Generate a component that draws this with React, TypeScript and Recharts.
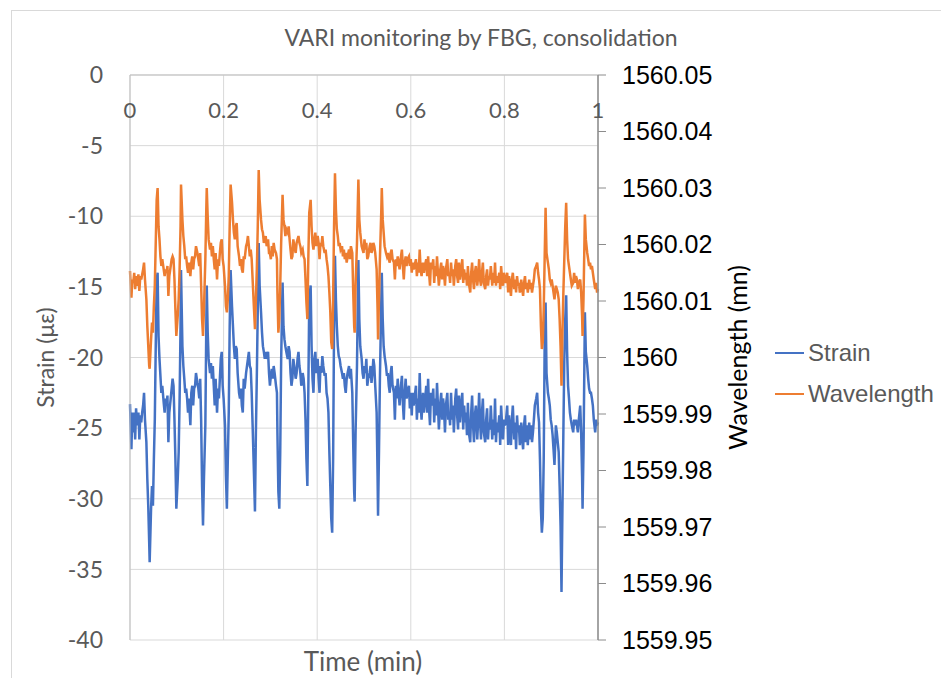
import React from "react";
import { LineChart, Line, XAxis, YAxis, CartesianGrid, Legend, Label } from "recharts";

// time (min)
const timeMin = [
  0.000, 0.003, 0.005, 0.007, 0.009, 0.011, 0.013, 0.015, 0.018, 0.020, 0.022, 0.024, 0.026, 0.028, 0.030, 0.032, 0.035, 0.037, 0.039, 0.041, 0.042, 0.045, 0.047, 0.049, 0.051, 0.053, 0.055, 0.057, 0.059, 0.061, 0.063, 0.065, 0.067, 0.069, 0.072, 0.074, 0.076, 0.078, 0.080, 0.082, 0.084, 0.087, 0.089, 0.091, 0.093, 0.095, 0.097, 0.099, 0.102, 0.104, 0.106, 0.108, 0.109, 0.112, 0.114, 0.116, 0.118, 0.120, 0.122, 0.124, 0.126, 0.129, 0.131, 0.133, 0.135, 0.137, 0.139, 0.141, 0.144, 0.146, 0.148, 0.150,
  0.152, 0.154, 0.156, 0.158, 0.161, 0.163, 0.164, 0.166, 0.168, 0.171, 0.173, 0.175, 0.177, 0.179, 0.181, 0.183, 0.186, 0.188, 0.190, 0.192, 0.194, 0.196, 0.198, 0.200, 0.203, 0.205, 0.207, 0.209, 0.211, 0.213, 0.215, 0.218, 0.220, 0.222, 0.224, 0.226, 0.228, 0.230, 0.233, 0.235, 0.237, 0.239, 0.241, 0.243, 0.245, 0.248, 0.250, 0.252, 0.254, 0.256, 0.258, 0.260, 0.262, 0.265, 0.267, 0.269, 0.271, 0.273, 0.275, 0.277, 0.280, 0.282, 0.284, 0.286, 0.288, 0.290, 0.292, 0.295, 0.297, 0.299, 0.301, 0.303, 0.305, 0.307, 0.309, 0.312, 0.314,
  0.315, 0.317, 0.319, 0.321, 0.323, 0.326, 0.328, 0.330, 0.332, 0.334, 0.337, 0.339, 0.341, 0.343, 0.345, 0.347, 0.349, 0.351, 0.354, 0.356, 0.358, 0.360, 0.362, 0.364, 0.366, 0.369, 0.371, 0.373, 0.375, 0.377, 0.379, 0.381, 0.383, 0.386, 0.388, 0.390, 0.392, 0.394, 0.396, 0.398, 0.401, 0.403, 0.405, 0.407, 0.409, 0.411, 0.413, 0.416, 0.418, 0.420, 0.422, 0.424, 0.426, 0.428, 0.430, 0.432, 0.434, 0.436, 0.438, 0.440, 0.442, 0.444, 0.446, 0.448, 0.450, 0.453, 0.455, 0.457, 0.459, 0.461, 0.463, 0.465, 0.468, 0.470, 0.472,
  0.475, 0.477, 0.479, 0.480, 0.482, 0.485, 0.487, 0.488, 0.490, 0.492, 0.495, 0.497, 0.499, 0.501, 0.503, 0.505, 0.507, 0.509, 0.512, 0.514, 0.516, 0.518, 0.520, 0.522, 0.524, 0.527, 0.529, 0.530, 0.532, 0.534, 0.537, 0.538, 0.540, 0.542, 0.544, 0.547, 0.549, 0.551, 0.553, 0.555, 0.557, 0.559, 0.561, 0.564, 0.566, 0.568, 0.570, 0.572, 0.574, 0.576, 0.579, 0.581, 0.583, 0.585, 0.587, 0.589, 0.591, 0.593, 0.596, 0.598, 0.600, 0.602, 0.604, 0.606, 0.608, 0.611, 0.613, 0.615, 0.617, 0.619, 0.621, 0.623, 0.626, 0.628, 0.630,
  0.633, 0.635, 0.637, 0.639, 0.641, 0.643, 0.645, 0.648, 0.650, 0.652, 0.654, 0.656, 0.658, 0.660, 0.663, 0.665, 0.667, 0.669, 0.671, 0.673, 0.675, 0.678, 0.680, 0.682, 0.684, 0.686, 0.688, 0.690, 0.692, 0.695, 0.697, 0.699, 0.701, 0.703, 0.705, 0.707, 0.710, 0.712, 0.714, 0.716, 0.718, 0.720, 0.722, 0.724, 0.727, 0.729, 0.731, 0.733, 0.735, 0.737, 0.739, 0.742, 0.744, 0.746, 0.748, 0.750, 0.752, 0.754, 0.756, 0.759, 0.761, 0.763, 0.765, 0.767, 0.769, 0.771, 0.774, 0.776, 0.778, 0.780, 0.782, 0.784, 0.786, 0.789, 0.791, 0.793, 0.795, 0.797, 0.799, 0.801,
  0.803, 0.806, 0.808, 0.810, 0.812, 0.814, 0.816, 0.818, 0.821, 0.823, 0.825, 0.827, 0.829, 0.831, 0.833, 0.836, 0.838, 0.840, 0.842, 0.844, 0.846, 0.848, 0.850, 0.853, 0.855, 0.857, 0.859, 0.861, 0.863, 0.865, 0.868, 0.870, 0.872, 0.874, 0.876, 0.878, 0.880, 0.882, 0.884, 0.886, 0.888, 0.890, 0.893, 0.895, 0.897, 0.899, 0.901, 0.903, 0.905, 0.907, 0.910, 0.912, 0.914, 0.916, 0.918, 0.920, 0.922, 0.924, 0.926, 0.928, 0.930, 0.932, 0.934, 0.936, 0.938, 0.940, 0.942, 0.944, 0.947, 0.949, 0.951, 0.953, 0.955, 0.957, 0.959, 0.962, 0.964, 0.966, 0.967, 0.969, 0.971, 0.972, 0.974, 0.977, 0.979, 0.981, 0.983, 0.985, 0.987, 0.989, 0.991, 0.994, 0.996, 0.998, 1.000,
];

// strain (με)
const strain = [
  -23.3, -26.5, -23.9, -25.3, -23.9, -25.8, -23.6, -24.8, -23.9, -25.8, -24.1, -24.6, -23.9, -23.4, -22.5, -24.4, -26.0, -28.6, -30.5, -33.1, -34.5, -30.7, -29.1, -30.5, -27.2, -24.4, -19.2, -14.5, -14.0, -18.5, -20.1, -21.3, -22.5, -22.0, -23.2, -23.9, -22.9, -23.4, -22.7, -26.0, -23.9, -22.9, -22.2, -21.5, -22.0, -24.4, -27.2, -30.7, -28.6, -26.7, -22.9, -17.8, -13.8, -19.2, -20.6, -21.5, -22.5, -22.2, -22.9, -23.9, -22.9, -24.8, -22.5, -22.0, -23.4, -22.2, -22.0, -21.1, -21.8, -22.2, -22.9, -21.5,
  -24.4, -29.1, -31.9, -28.6, -24.8, -17.8, -14.9, -18.2, -20.1, -21.1, -20.4, -21.5, -20.6, -22.0, -23.4, -21.5, -23.9, -22.2, -22.9, -21.5, -20.1, -19.6, -22.0, -22.9, -24.8, -28.4, -30.7, -27.2, -23.9, -17.8, -13.8, -16.4, -17.8, -19.2, -20.1, -19.2, -19.4, -21.1, -22.5, -22.9, -22.2, -23.4, -23.9, -21.5, -22.2, -21.1, -20.6, -20.1, -19.6, -20.6, -20.8, -22.5, -24.8, -28.4, -30.9, -25.3, -21.3, -16.6, -11.9, -14.9, -16.8, -18.2, -19.2, -19.6, -20.1, -19.6, -20.1, -19.6, -21.1, -22.0, -21.3, -20.8, -21.5, -20.6, -21.1, -22.0, -22.5,
  -25.3, -29.5, -30.7, -26.7, -20.1, -14.7, -17.8, -18.7, -19.2, -19.6, -20.1, -19.2, -19.6, -21.1, -22.0, -21.5, -20.1, -20.6, -21.5, -21.1, -20.1, -19.6, -20.6, -21.1, -22.0, -21.1, -21.5, -22.5, -24.4, -27.2, -29.1, -22.5, -15.9, -14.9, -19.2, -21.5, -22.5, -20.1, -19.6, -21.1, -20.1, -21.5, -22.5, -20.6, -21.1, -19.9, -20.6, -21.3, -21.1, -22.5, -22.9, -23.9, -26.7, -29.1, -31.4, -32.4, -27.2, -17.8, -12.8, -15.9, -17.8, -19.2, -19.9, -20.1, -20.6, -21.1, -21.5, -21.1, -22.0, -22.5, -21.5, -21.1, -20.6, -21.5, -20.8,
  -22.5, -26.2, -29.5, -30.2, -25.3, -20.6, -15.4, -13.1, -17.3, -19.2, -20.1, -21.1, -21.5, -20.6, -21.1, -20.1, -22.0, -21.5, -21.1, -20.6, -21.8, -21.1, -20.1, -20.6, -22.0, -23.9, -28.4, -31.2, -26.7, -21.5, -15.9, -14.0, -17.3, -19.2, -19.9, -20.6, -21.3, -21.1, -22.0, -22.5, -21.1, -20.6, -22.0, -22.5, -24.4, -22.0, -22.9, -21.5, -22.5, -23.4, -22.0, -21.3, -23.2, -24.4, -22.5, -21.5, -22.9, -22.5, -22.0, -23.6, -22.5, -24.1, -22.5, -23.4, -22.9, -22.0, -24.4, -22.9, -23.9, -21.1, -23.4, -24.4, -22.5, -23.9, -23.2,
  -22.0, -23.9, -21.5, -23.6, -24.8, -22.5, -23.4, -22.2, -24.6, -22.9, -24.1, -21.8, -23.4, -25.1, -23.2, -22.5, -24.4, -22.9, -23.6, -25.3, -23.4, -22.5, -24.4, -23.9, -24.8, -22.5, -24.4, -23.4, -25.3, -22.9, -22.2, -24.1, -25.1, -22.7, -24.6, -23.6, -22.5, -25.1, -23.4, -24.6, -23.9, -25.5, -23.2, -25.3, -26.0, -23.9, -22.7, -24.8, -26.0, -24.1, -23.4, -25.8, -24.4, -22.5, -24.6, -25.8, -23.9, -22.9, -25.3, -26.0, -24.4, -23.6, -25.8, -24.6, -25.1, -23.4, -25.8, -24.4, -25.5, -22.9, -26.0, -24.6, -25.3, -24.1, -26.2, -23.4, -24.8, -25.8, -24.4, -24.8,
  -24.6, -23.4, -26.2, -24.1, -25.3, -26.2, -24.4, -23.4, -25.8, -24.6, -26.5, -24.1, -25.3, -24.8, -26.2, -24.6, -25.8, -26.5, -24.8, -24.1, -26.0, -24.8, -26.2, -24.6, -25.8, -24.8, -26.0, -25.3, -24.4, -23.4, -22.9, -22.5, -23.9, -24.6, -27.2, -30.7, -32.4, -31.4, -27.2, -19.2, -16.1, -21.1, -22.5, -22.9, -23.4, -24.4, -24.8, -25.5, -26.5, -27.6, -24.8, -25.3, -26.0, -26.7, -29.1, -31.9, -36.6, -30.7, -25.3, -20.1, -17.3, -15.6, -19.6, -22.0, -22.9, -23.9, -24.4, -24.8, -25.3, -24.4, -24.8, -24.4, -24.8, -25.3, -24.4, -23.4, -25.3, -28.4, -30.7, -26.7, -20.1, -16.8, -19.6, -20.6, -21.5, -22.2, -22.5, -22.5, -22.9, -23.4, -24.4, -25.3, -24.4, -24.8, -24.6,
];

// wavelength (secondary axis)
const wavelength = [
  1560.0153, 1560.0106, 1560.0138, 1560.0132, 1560.0150, 1560.0121, 1560.0144, 1560.0127, 1560.0147, 1560.0118, 1560.0144, 1560.0138, 1560.0147, 1560.0156, 1560.0168, 1560.0138, 1560.0103, 1560.0056, 1560.0021, 1559.9985, 1559.9980, 1560.0032, 1560.0062, 1560.0044, 1560.0091, 1560.0127, 1560.0203, 1560.0279, 1560.0300, 1560.0232, 1560.0209, 1560.0179, 1560.0162, 1560.0174, 1560.0156, 1560.0144, 1560.0156, 1560.0150, 1560.0162, 1560.0109, 1560.0144, 1560.0162, 1560.0174, 1560.0179, 1560.0174, 1560.0138, 1560.0085, 1560.0038, 1560.0074, 1560.0103, 1560.0156, 1560.0232, 1560.0306, 1560.0244, 1560.0215, 1560.0197, 1560.0174, 1560.0179, 1560.0162, 1560.0150, 1560.0168, 1560.0144, 1560.0168, 1560.0179, 1560.0156, 1560.0174, 1560.0179, 1560.0197, 1560.0185, 1560.0174, 1560.0162, 1560.0185,
  1560.0127, 1560.0068, 1560.0038, 1560.0085, 1560.0174, 1560.0262, 1560.0300, 1560.0250, 1560.0209, 1560.0191, 1560.0203, 1560.0179, 1560.0197, 1560.0174, 1560.0156, 1560.0185, 1560.0138, 1560.0174, 1560.0162, 1560.0185, 1560.0203, 1560.0209, 1560.0174, 1560.0162, 1560.0127, 1560.0091, 1560.0080, 1560.0103, 1560.0144, 1560.0232, 1560.0306, 1560.0274, 1560.0244, 1560.0221, 1560.0209, 1560.0232, 1560.0238, 1560.0197, 1560.0179, 1560.0162, 1560.0174, 1560.0156, 1560.0150, 1560.0179, 1560.0174, 1560.0197, 1560.0203, 1560.0215, 1560.0197, 1560.0179, 1560.0191, 1560.0174, 1560.0138, 1560.0085, 1560.0050, 1560.0103, 1560.0156, 1560.0232, 1560.0332, 1560.0279, 1560.0244, 1560.0227, 1560.0221, 1560.0203, 1560.0209, 1560.0215, 1560.0197, 1560.0209, 1560.0185, 1560.0185, 1560.0174, 1560.0197, 1560.0179, 1560.0203, 1560.0191, 1560.0185, 1560.0174,
  1560.0115, 1560.0044, 1560.0068, 1560.0127, 1560.0203, 1560.0288, 1560.0244, 1560.0232, 1560.0215, 1560.0227, 1560.0221, 1560.0232, 1560.0209, 1560.0191, 1560.0174, 1560.0179, 1560.0209, 1560.0197, 1560.0185, 1560.0203, 1560.0209, 1560.0215, 1560.0203, 1560.0197, 1560.0185, 1560.0191, 1560.0179, 1560.0174, 1560.0138, 1560.0097, 1560.0068, 1560.0174, 1560.0256, 1560.0279, 1560.0232, 1560.0203, 1560.0191, 1560.0209, 1560.0221, 1560.0197, 1560.0215, 1560.0203, 1560.0174, 1560.0203, 1560.0197, 1560.0215, 1560.0197, 1560.0185, 1560.0191, 1560.0174, 1560.0162, 1560.0144, 1560.0115, 1560.0080, 1560.0027, 1560.0015, 1560.0103, 1560.0232, 1560.0326, 1560.0262, 1560.0227, 1560.0215, 1560.0197, 1560.0203, 1560.0191, 1560.0197, 1560.0179, 1560.0191, 1560.0174, 1560.0185, 1560.0168, 1560.0179, 1560.0191, 1560.0174, 1560.0197,
  1560.0185, 1560.0115, 1560.0056, 1560.0044, 1560.0127, 1560.0203, 1560.0279, 1560.0315, 1560.0244, 1560.0221, 1560.0197, 1560.0191, 1560.0185, 1560.0209, 1560.0191, 1560.0203, 1560.0174, 1560.0179, 1560.0197, 1560.0203, 1560.0185, 1560.0191, 1560.0203, 1560.0197, 1560.0185, 1560.0156, 1560.0085, 1560.0032, 1560.0103, 1560.0174, 1560.0262, 1560.0300, 1560.0244, 1560.0221, 1560.0197, 1560.0185, 1560.0179, 1560.0185, 1560.0174, 1560.0168, 1560.0185, 1560.0191, 1560.0174, 1560.0168, 1560.0138, 1560.0174, 1560.0162, 1560.0179, 1560.0168, 1560.0156, 1560.0179, 1560.0191, 1560.0162, 1560.0138, 1560.0168, 1560.0179, 1560.0162, 1560.0174, 1560.0179, 1560.0162, 1560.0174, 1560.0150, 1560.0168, 1560.0156, 1560.0162, 1560.0174, 1560.0144, 1560.0168, 1560.0150, 1560.0191, 1560.0156, 1560.0144, 1560.0168, 1560.0150, 1560.0162,
  1560.0174, 1560.0144, 1560.0179, 1560.0150, 1560.0127, 1560.0168, 1560.0156, 1560.0174, 1560.0132, 1560.0162, 1560.0144, 1560.0179, 1560.0150, 1560.0127, 1560.0156, 1560.0168, 1560.0138, 1560.0162, 1560.0150, 1560.0127, 1560.0156, 1560.0174, 1560.0144, 1560.0150, 1560.0132, 1560.0168, 1560.0144, 1560.0156, 1560.0127, 1560.0162, 1560.0174, 1560.0144, 1560.0132, 1560.0168, 1560.0138, 1560.0150, 1560.0174, 1560.0132, 1560.0156, 1560.0138, 1560.0150, 1560.0127, 1560.0162, 1560.0132, 1560.0115, 1560.0150, 1560.0168, 1560.0138, 1560.0121, 1560.0150, 1560.0162, 1560.0127, 1560.0144, 1560.0174, 1560.0138, 1560.0127, 1560.0150, 1560.0168, 1560.0132, 1560.0121, 1560.0144, 1560.0156, 1560.0127, 1560.0144, 1560.0138, 1560.0162, 1560.0127, 1560.0150, 1560.0132, 1560.0168, 1560.0127, 1560.0144, 1560.0132, 1560.0150, 1560.0121, 1560.0162, 1560.0138, 1560.0127, 1560.0150, 1560.0138,
  1560.0132, 1560.0150, 1560.0115, 1560.0144, 1560.0127, 1560.0109, 1560.0138, 1560.0150, 1560.0121, 1560.0138, 1560.0115, 1560.0144, 1560.0127, 1560.0132, 1560.0115, 1560.0138, 1560.0121, 1560.0109, 1560.0132, 1560.0144, 1560.0121, 1560.0132, 1560.0115, 1560.0138, 1560.0121, 1560.0132, 1560.0115, 1560.0127, 1560.0138, 1560.0156, 1560.0162, 1560.0168, 1560.0150, 1560.0138, 1560.0121, 1560.0056, 1560.0015, 1560.0027, 1560.0085, 1560.0174, 1560.0265, 1560.0185, 1560.0168, 1560.0156, 1560.0138, 1560.0132, 1560.0138, 1560.0127, 1560.0115, 1560.0103, 1560.0127, 1560.0121, 1560.0115, 1560.0103, 1560.0068, 1560.0021, 1559.9950, 1560.0044, 1560.0115, 1560.0174, 1560.0232, 1560.0274, 1560.0209, 1560.0174, 1560.0162, 1560.0150, 1560.0138, 1560.0127, 1560.0132, 1560.0150, 1560.0132, 1560.0144, 1560.0138, 1560.0121, 1560.0132, 1560.0138, 1560.0115, 1560.0074, 1560.0038, 1560.0103, 1560.0203, 1560.0253, 1560.0209, 1560.0185, 1560.0174, 1560.0162, 1560.0168, 1560.0156, 1560.0162, 1560.0150, 1560.0138, 1560.0121, 1560.0132, 1560.0115, 1560.0121,
];

const timeTicks = [0, 0.2, 0.4, 0.6, 0.8, 1];
const strainTicks = [-40, -35, -30, -25, -20, -15, -10, -5, 0];
const waveTicks = [1559.95, 1559.96, 1559.97, 1559.98, 1559.99, 1560, 1560.01, 1560.02, 1560.03, 1560.04, 1560.05];

const n = Math.min(timeMin.length, strain.length, wavelength.length);
const data = timeMin.slice(0, n).map((t, i) => ({ t, strain: strain[i], wavelength: wavelength[i] }));

const GREY = "#595959";
const CAL = "Lato, 'Open Sans', sans-serif";
const ARIAL = "'Liberation Sans', Arial, sans-serif";

// x labels sit under the axis line, inside the plot (axis crosses at strain 0)
function TopTick(props: any) {
  const { x, y, payload } = props;
  return (
    <text x={x} y={y + 43} textAnchor="middle" fill={GREY} fontSize={22} fontFamily={CAL}>
      {payload.value}
    </text>
  );
}

function LegendBox(props: any) {
  const { payload } = props;
  return (
    <div>
      {(payload || []).map((p: any) => (
        <div key={p.value} style={{ display: "flex", alignItems: "center", height: 41 }}>
          <div style={{ width: 29, height: 2, background: p.color, marginRight: 4 }} />
          <span style={{ fontFamily: ARIAL, fontSize: 24, color: GREY }}>{p.value}</span>
        </div>
      ))}
    </div>
  );
}

export default function App() {
  return (
    <div style={{ position: "relative", width: 949, height: 686, margin: -8, overflow: "hidden", background: "#fff" }}>
      <div style={{ position: "absolute", left: 11, top: 10, width: 980, height: 720, border: "1px solid #d9d9d9" }} />
      <div
        style={{
          position: "absolute", left: 0, top: 22, width: 962, textAlign: "center",
          fontFamily: CAL, fontSize: 23, color: GREY, lineHeight: "30px",
        }}
      >
        VARI monitoring by FBG, consolidation
      </div>
      <div
        style={{
          position: "absolute", left: 0, top: 645, width: 726, textAlign: "center",
          fontFamily: CAL, fontSize: 26, color: GREY, lineHeight: "32px",
        }}
      >
        Time (min)
      </div>
      <div style={{ position: "absolute", left: 0, top: 0 }}>
        <LineChart width={949} height={686} data={data} margin={{ top: 45, right: 0, bottom: 46, left: 0 }}>
          <CartesianGrid yAxisId="left" stroke="#d9d9d9" />
          <XAxis
            dataKey="t"
            type="number"
            orientation="top"
            domain={[0, 1]}
            ticks={timeTicks}
            interval={0}
            height={30}
            axisLine={{ stroke: "#bfbfbf" }}
            tickLine={false}
            tickSize={0}
            tickMargin={0}
            tick={<TopTick />}
          />
          <XAxis
            xAxisId="base"
            dataKey="t"
            type="number"
            orientation="bottom"
            domain={[0, 1]}
            height={0}
            axisLine={{ stroke: "#bfbfbf" }}
            tick={false}
            tickLine={false}
          />
          <YAxis
            yAxisId="left"
            domain={[-40, 0]}
            ticks={strainTicks}
            interval={0}
            width={130}
            axisLine={{ stroke: "#bfbfbf" }}
            tickLine={false}
            tickSize={0}
            tickMargin={27}
            tick={{ fill: GREY, fontSize: 23, fontFamily: CAL }}
          >
            <Label
              value="Strain (με)"
              angle={-90}
              position="center"
              dx={-19}
              style={{ fill: GREY, fontSize: 23, fontFamily: CAL }}
            />
          </YAxis>
          <YAxis
            yAxisId="right"
            orientation="right"
            domain={[1559.95, 1560.05]}
            ticks={waveTicks}
            interval={0}
            allowDataOverflow
            width={351}
            axisLine={{ stroke: "#8c8c8c", strokeWidth: 1.5 }}
            tickLine={{ stroke: "#8c8c8c" }}
            tickSize={8}
            tickMargin={16}
            tickFormatter={(v: number) => String(Number(v.toFixed(2)))}
            tick={{ fill: "#000", fontSize: 25, fontFamily: ARIAL }}
          >
            <Label
              value="Wavelength (mn)"
              angle={-90}
              position="center"
              dx={-35}
              style={{ fill: "#000", fontSize: 25, fontFamily: CAL }}
            />
          </YAxis>
          <Legend
            layout="vertical"
            align="center"
            verticalAlign="middle"
            content={<LegendBox />}
            wrapperStyle={{ left: 775, top: 332, width: 170 }}
          />
          <Line
            yAxisId="left"
            dataKey="strain"
            name="Strain"
            stroke="#4472c4"
            strokeWidth={2.5}
            dot={false}
            type="linear"
            isAnimationActive={false}
          />
          <Line
            yAxisId="right"
            dataKey="wavelength"
            name="Wavelength"
            stroke="#ed7d31"
            strokeWidth={2.5}
            dot={false}
            type="linear"
            isAnimationActive={false}
          />
        </LineChart>
      </div>
    </div>
  );
}
